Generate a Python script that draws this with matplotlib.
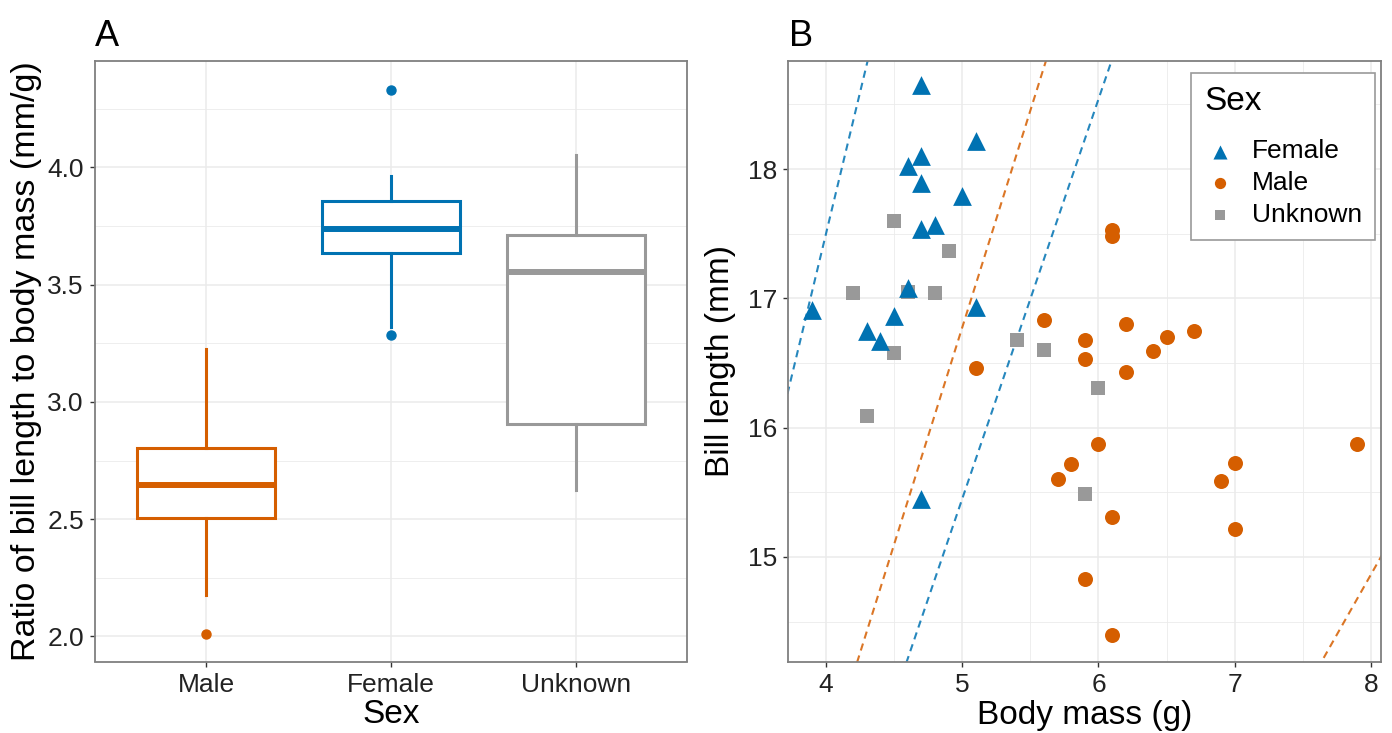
import matplotlib
matplotlib.use("Agg")
import matplotlib.pyplot as plt
import numpy as np

plt.rcParams['font.family'] = ['Liberation Sans', 'DejaVu Sans']

# ---------------- Data ----------------
# Panel A: box statistics (ratio of bill length to body mass, mm/g)
box_groups = ["Male", "Female", "Unknown"]
box_q1 = [2.505, 3.637, 2.904]
box_med = [2.644, 3.738, 3.553]
box_q3 = [2.802, 3.857, 3.712]
box_whislo = [2.177, 3.318, 2.626]
box_whishi = [3.225, 3.962, 4.054]
box_fliers = [[2.010], [3.285, 4.330], []]

# Panel B: scatter (body mass g, bill length mm)
female_mass = [4.7, 5.1, 4.7, 4.6, 4.7, 5.0, 4.7, 4.8, 4.6, 3.9, 5.1, 4.5, 4.3, 4.4, 4.7]
female_bill = [18.65, 18.22, 18.10, 18.02, 17.89, 17.79, 17.54, 17.57, 17.08, 16.91, 16.93, 16.86, 16.75, 16.67, 15.45]
male_mass = [5.1, 5.6, 6.2, 5.9, 6.7, 6.5, 6.4, 5.9, 6.2, 6.0, 5.8, 5.7, 7.0, 6.9, 7.9, 6.1, 7.0, 6.1, 6.1, 5.9, 6.1]
male_bill = [16.46, 16.83, 16.80, 16.68, 16.75, 16.70, 16.59, 16.53, 16.43, 15.87, 15.72, 15.60, 15.73, 15.59, 15.87, 15.31, 15.22, 17.53, 17.48, 14.83, 14.40]
unk_mass = [4.5, 4.9, 4.2, 4.6, 4.8, 4.5, 5.4, 5.6, 4.3, 6.0, 5.9]
unk_bill = [17.60, 17.37, 17.04, 17.05, 17.04, 16.58, 16.68, 16.60, 16.09, 16.31, 15.49]

# Ratio lines through origin (slopes, mm/g)
female_line_slopes = [4.375, 3.09]
male_line_slopes = [3.355, 1.858]

# ---------------- Style ----------------
C_MALE = "#D55E00"
C_FEMALE = "#0072B2"
C_UNK = "#999999"
box_colors = [C_MALE, C_FEMALE, C_UNK]
GRID = "#EBEBEB"
BORDER = "#7F7F7F"
TICKCOL = "#333333"

W, H = 1392, 733
fig = plt.figure(figsize=(W / 100, H / 100), dpi=100)

def frac(l, t, r, b):
    return [l / W, 1 - b / H, (r - l) / W, (b - t) / H]

axA = fig.add_axes(frac(95, 60.5, 687, 661.5))
axB = fig.add_axes(frac(788, 60.7, 1381, 662))

def style_axes(ax):
    for s in ax.spines.values():
        s.set_color(BORDER)
        s.set_linewidth(1.3)
    ax.set_axisbelow(True)
    ax.tick_params(axis='both', which='major', length=3.5, width=1.0, color=TICKCOL,
                   labelsize=19, labelcolor="#222222", pad=4.5)
    ax.tick_params(axis='both', which='minor', length=0)
    ax.grid(True, which='major', color=GRID, linewidth=1.1)
    ax.grid(True, which='minor', color=GRID, linewidth=0.6)

# ---------------- Panel A ----------------
style_axes(axA)
stats = []
for i, g in enumerate(box_groups):
    stats.append(dict(label=g, q1=box_q1[i], med=box_med[i], q3=box_q3[i],
                      whislo=box_whislo[i], whishi=box_whishi[i], fliers=box_fliers[i]))
positions = np.arange(1, len(box_groups) + 1)
for i, st in enumerate(stats):
    col = box_colors[i]
    axA.bxp([st], positions=[positions[i]], widths=0.75, showcaps=False, patch_artist=True,
            boxprops=dict(facecolor="white", edgecolor=col, linewidth=2.2),
            whiskerprops=dict(color=col, linewidth=2.2),
            medianprops=dict(color=col, linewidth=4.3, solid_capstyle='butt'),
            flierprops=dict(marker='o', markerfacecolor=col, markeredgecolor=col, markersize=6.5,
                            linestyle='none'))
axA.set_xlim(0.4, 3.6)
axA.set_ylim(1.893, 4.456)
axA.set_xticks(positions)
axA.set_xticklabels(box_groups)
axA.set_yticks([2.0, 2.5, 3.0, 3.5, 4.0])
axA.set_yticklabels(["2.0", "2.5", "3.0", "3.5", "4.0"])
axA.set_yticks([2.25, 2.75, 3.25, 3.75, 4.25], minor=True)
axA.grid(False, axis='x', which='minor')
axA.set_xlabel("Sex", fontsize=24, labelpad=2)
axA.set_ylabel("Ratio of bill length to body mass (mm/g)", fontsize=24.5, labelpad=4)

# ---------------- Panel B ----------------
style_axes(axB)
xlim = (3.721, 8.074)
ylim = (14.188, 18.838)
xs = np.linspace(0, 9, 200)
for k in female_line_slopes:
    axB.plot(xs, k * xs, color=C_FEMALE, linestyle=(0, (3.5, 2.5)), linewidth=1.5, alpha=0.85, zorder=2)
for k in male_line_slopes:
    axB.plot(xs, k * xs, color=C_MALE, linestyle=(0, (3.5, 2.5)), linewidth=1.5, alpha=0.85, zorder=2)

axB.scatter(unk_mass, unk_bill, marker='s', s=9.5 ** 2, color=C_UNK, linewidths=0, zorder=3, label="Unknown")
axB.scatter(female_mass, female_bill, marker='^', s=13.5 ** 2, color=C_FEMALE, linewidths=0, zorder=4, label="Female")
axB.scatter(male_mass, male_bill, marker='o', s=10.8 ** 2, color=C_MALE, linewidths=0, zorder=3, label="Male")

axB.set_xlim(*xlim)
axB.set_ylim(*ylim)
axB.set_xticks([4, 5, 6, 7, 8])
axB.set_xticks([4.5, 5.5, 6.5, 7.5], minor=True)
axB.set_yticks([15, 16, 17, 18])
axB.set_yticks([14.5, 15.5, 16.5, 17.5, 18.5], minor=True)
axB.set_xlabel("Body mass (g)", fontsize=24, labelpad=2)
axB.set_ylabel("Bill length (mm)", fontsize=24, labelpad=8)

handles, labels = axB.get_legend_handles_labels()
order = [labels.index(n) for n in ["Female", "Male", "Unknown"]]
leg = axB.legend([handles[i] for i in order], [labels[i] for i in order], title="Sex",
                 loc="upper right", bbox_to_anchor=(0.99, 0.9795), borderaxespad=0,
                 fontsize=19, title_fontsize=24,
                 frameon=True, fancybox=False, framealpha=1, edgecolor="#9A9A9A",
                 handletextpad=0.6, labelspacing=0.3, borderpad=0.5, markerscale=0.75,
                 handlelength=1.2)
leg.get_frame().set_linewidth(1.2)
leg._legend_box.align = "left"
leg._legend_box.sep = 16

# Panel tags
fig.text(95 / W, 1 - 46 / H, "A", fontsize=26, ha="left", va="baseline")
fig.text(789 / W, 1 - 46 / H, "B", fontsize=26, ha="left", va="baseline")

fig.savefig("out.png", dpi=100)
